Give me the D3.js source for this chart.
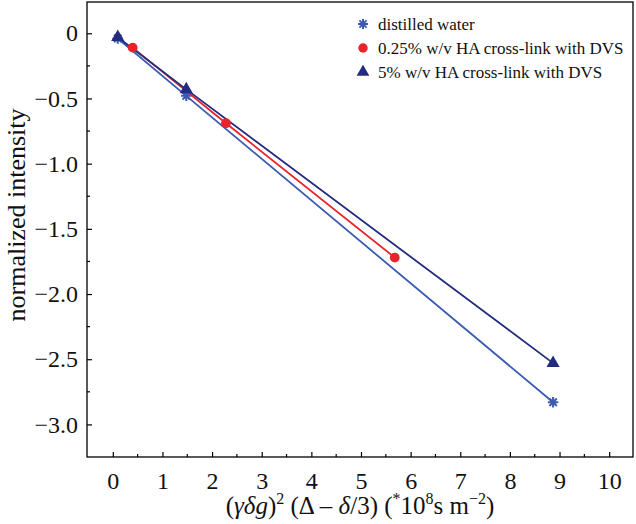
<!DOCTYPE html>
<html>
<head>
<meta charset="utf-8">
<script src="https://cdn.jsdelivr.net/npm/d3@7/dist/d3.min.js"></script>
<style>
  html, body { margin: 0; padding: 0; background: #fff; }
  svg { display: block; }
  text { font-family: "Liberation Serif", "Times New Roman", serif; }
</style>
</head>
<body>
<svg id="chart" width="636" height="524"></svg>
<script>
// ---- Data ----
const seriesNames = ["distilled water", "0.25% w/v HA cross-link with DVS", "5% w/v HA cross-link with DVS"];
const waterX = [0.10, 1.48, 8.87];
const waterY = [-0.04, -0.48, -2.83];
const ha025X = [0.40, 2.28, 5.68];
const ha025Y = [-0.11, -0.69, -1.72];
const ha5X = [0.10, 1.48, 8.87];
const ha5Y = [-0.03, -0.43, -2.53];
const xTicks = [0, 1, 2, 3, 4, 5, 6, 7, 8, 9, 10];
const yTicks = [0, -0.5, -1.0, -1.5, -2.0, -2.5, -3.0];

const colors = ["#3b5bb0", "#e8242a", "#232b80"];

const svg = d3.select("#chart");
const pL = 87, pR = 633, pT = 2, pB = 457;

const x = d3.scaleLinear().domain([-0.52, 10.48]).range([pL, pR]);
const y = d3.scaleLinear().domain([0.24, -3.25]).range([pT, pB]);

const fmtY = d => d === 0 ? "0" : (d < 0 ? "\u2212" : "") + Math.abs(d).toFixed(1);

// 8-arm asterisk symbol
const star8 = {
  draw(ctx, size) {
    const r = Math.sqrt(size) * 0.55;
    for (let k = 0; k < 4; k++) {
      const a = k * Math.PI / 4;
      const dx = r * Math.cos(a), dy = r * Math.sin(a);
      ctx.moveTo(-dx, -dy);
      ctx.lineTo(dx, dy);
    }
  }
};

// frame
svg.append("rect").attr("x", pL).attr("y", pT)
  .attr("width", pR - pL).attr("height", pB - pT)
  .attr("fill", "none").attr("stroke", "#000").attr("stroke-width", 1.3);

// x axis
const xAxis = d3.axisBottom(x).tickValues(xTicks).tickSize(-5).tickPadding(15).tickFormat(d3.format("d"));
const gx = svg.append("g").attr("transform", `translate(0,${pB})`).call(xAxis);
gx.select(".domain").remove();
gx.selectAll(".tick line").attr("stroke", "#000").attr("stroke-width", 1.2);
gx.selectAll(".tick text").attr("font-size", 24).attr("fill", "#111")
  .attr("font-family", "Liberation Serif, serif");
const xMinor = xTicks.slice(0, -1).map(d => d + 0.5);
svg.append("g").selectAll("line").data(xMinor).join("line")
  .attr("x1", d => x(d)).attr("x2", d => x(d))
  .attr("y1", pB).attr("y2", pB - 3)
  .attr("stroke", "#000").attr("stroke-width", 1.2);

// y axis
const yAxis = d3.axisLeft(y).tickValues(yTicks).tickSize(-5).tickPadding(9).tickFormat(fmtY);
const gy = svg.append("g").attr("transform", `translate(${pL},0)`).call(yAxis);
gy.select(".domain").remove();
gy.selectAll(".tick line").attr("stroke", "#000").attr("stroke-width", 1.2);
gy.selectAll(".tick text").attr("font-size", 24).attr("fill", "#111")
  .attr("font-family", "Liberation Serif, serif");
const yMinor = yTicks.slice(0, -1).map(d => d - 0.25);
svg.append("g").selectAll("line").data(yMinor).join("line")
  .attr("x1", pL).attr("x2", pL + 3)
  .attr("y1", d => y(d)).attr("y2", d => y(d))
  .attr("stroke", "#000").attr("stroke-width", 1.2);

// y title
svg.append("text")
  .attr("transform", `translate(25,215) rotate(-90)`)
  .attr("text-anchor", "middle").attr("font-size", 26).attr("fill", "#111")
  .text("normalized intensity");

// x title
const xt = svg.append("text").attr("x", 360).attr("y", 514)
  .attr("text-anchor", "middle").attr("font-size", 25).attr("fill", "#111");
xt.append("tspan").text("(");
xt.append("tspan").attr("font-style", "italic").text("γδg");
xt.append("tspan").text(")");
xt.append("tspan").attr("font-size", 16).attr("dy", -10).text("2");
xt.append("tspan").attr("dy", 10).text(" (Δ – ");
xt.append("tspan").attr("font-style", "italic").text("δ");
xt.append("tspan").text("/3) (");
xt.append("tspan").attr("font-size", 16).attr("dy", -10).text("*");
xt.append("tspan").attr("dy", 10).text("10");
xt.append("tspan").attr("font-size", 16).attr("dy", -10).text("8");
xt.append("tspan").attr("dy", 10).text("s m");
xt.append("tspan").attr("font-size", 16).attr("dy", -10).text("\u22122");
xt.append("tspan").attr("dy", 10).text(")");

// series
const series = [
  { name: seriesNames[0], xs: waterX, ys: waterY, color: colors[0], sym: star8, stroke: true },
  { name: seriesNames[1], xs: ha025X, ys: ha025Y, color: colors[1], sym: d3.symbolCircle, stroke: false },
  { name: seriesNames[2], xs: ha5X, ys: ha5Y, color: colors[2], sym: d3.symbolTriangle, stroke: false }
];
const line = d3.line().x(d => x(d[0])).y(d => y(d[1]));

series.forEach(s => {
  const pts = s.xs.map((v, i) => [v, s.ys[i]]);
  svg.append("path").datum(pts).attr("d", line)
    .attr("fill", "none").attr("stroke", s.color).attr("stroke-width", 1.8);
});
series.forEach(s => {
  const pts = s.xs.map((v, i) => [v, s.ys[i]]);
  const size = s.stroke ? 90 : 75;
  svg.append("g").selectAll("path").data(pts).join("path")
    .attr("transform", d => `translate(${x(d[0])},${y(d[1])})`)
    .attr("d", d3.symbol().type(s.sym).size(size))
    .attr("fill", s.stroke ? "none" : s.color)
    .attr("stroke", s.stroke ? s.color : "none")
    .attr("stroke-width", s.stroke ? 2 : 0);
});

// legend
const lg = svg.append("g");
series.forEach((s, i) => {
  const cy = 24 + i * 24;
  lg.append("path").attr("transform", `translate(363,${cy})`)
    .attr("d", d3.symbol().type(s.sym).size(s.stroke ? 85 : 70))
    .attr("fill", s.stroke ? "none" : s.color)
    .attr("stroke", s.stroke ? s.color : "none")
    .attr("stroke-width", s.stroke ? 2 : 0);
  lg.append("text").attr("x", 378).attr("y", cy + 5.5)
    .attr("font-size", 17).attr("fill", "#111").text(s.name);
});
</script>
</body>
</html>
